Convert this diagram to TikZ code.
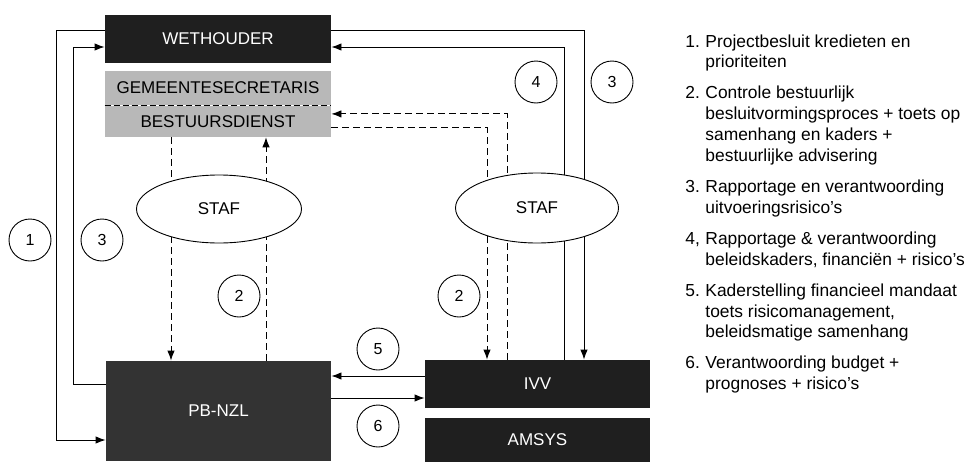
\documentclass[tikz,border=0pt]{standalone}
\usepackage{fontspec}
\setmainfont{Liberation Sans}
\usetikzlibrary{arrows.meta, positioning, calc, shapes.geometric}
\newcommand{\keyno}[1]{\makebox[20pt][l]{#1}}

\begin{document}
\begin{tikzpicture}[x=1pt, y=-1pt, line width=0.9pt,
  darkbox/.style={fill=black!88, text=white, font=\fontsize{17}{20}\selectfont,
                  minimum width=226pt, inner sep=0pt},
  graybox/.style={fill=black!28, font=\fontsize{17}{20}\selectfont,
                  minimum width=226pt, inner sep=0pt},
  staf/.style={ellipse, draw, fill=white, font=\fontsize{17}{20}\selectfont, inner sep=0pt},
  num/.style={circle, draw, fill=white, minimum size=42pt, inner sep=0pt,
              font=\fontsize{16}{18}\selectfont},
  a/.style={-{Latex[length=10pt, width=7.5pt]}},
  ad/.style={a, dash pattern=on 7pt off 4pt},
  legend/.style={anchor=north west, align=left, inner sep=0pt,
                 font=\fontsize{17.4}{20.8}\selectfont}]
  \useasboundingbox (0,0) rectangle (967,461);

  \node[darkbox, minimum height=48pt] (weth) at (218,39) {WETHOUDER};
  \node[graybox, minimum height=34pt] (gsec) at (218,88) {GEMEENTESECRETARIS};
  \node[graybox, minimum height=31pt, below=0pt of gsec] (bsd) {BESTUURSDIENST};
  \draw[dash pattern=on 6pt off 3pt] (gsec.south west) -- (gsec.south east);
  \node[darkbox, fill=black!80, minimum width=225pt, minimum height=100pt] (pb) at (218.5,411) {PB-NZL};
  \node[darkbox, minimum width=225pt, minimum height=48pt] (ivv) at (537.5,384) {IVV};
  \node[darkbox, minimum width=225pt, minimum height=44pt, below=9pt of ivv] (ams) {AMSYS};

  % lijnen links
  \draw[a] ([yshift=9pt]weth.west) -- ++(-48,0) |- ([yshift=-29pt]pb.west);
  \draw[a] ([yshift=27pt]pb.west) -- ++(-32,0) |- ([yshift=-8pt]weth.west);
  \draw[ad] ([xshift=-47pt]bsd.south) -- ([xshift=-47pt]bsd.south |- pb.north);
  \draw[ad] ([xshift=48pt]bsd.south |- pb.north) -- ([xshift=48pt]bsd.south);

  % lijnen rechts
  \draw[a] ([yshift=9pt]weth.east) -| ([xshift=46.5pt]ivv.north);
  \draw[a] ([xshift=26.5pt]ivv.north) |- ([yshift=-8pt]weth.east);
  \draw[ad] ([xshift=-30.5pt]ivv.north) |- ([yshift=7.5pt]bsd.east);
  \draw[ad] ([yshift=-6.5pt]bsd.east) -| ([xshift=-50.5pt]ivv.north);

  % tussen PB-NZL en IVV
  \draw[a] ([yshift=8pt]ivv.west) -- ([yshift=8pt]ivv.west -| pb.east);
  \draw[a] ([yshift=-14pt]ivv.west -| pb.east) -- ([yshift=-14pt]ivv.west);

  \node[staf, minimum width=165pt, minimum height=68pt] (stafL) at (219,209) {STAF};
  \node[staf, minimum width=163pt, minimum height=70pt] (stafR) at (537,208) {STAF};

  \node[num] (c1) at (30,240) {1};
  \node[num] (c3l) at (102,240) {3};
  \node[num] (c2l) at (239,296) {2};
  \node[num] (c4) at (536,82) {4};
  \node[num] (c3r) at (612,82) {3};
  \node[num] (c2r) at (459,296) {2};
  \node[num] (c5) at (378,349) {5};
  \node[num] (c6) at (378,426) {6};

  \node[legend] (key) at (685,34) {%
    \keyno{1.}Projectbesluit kredieten en\\
    \keyno{}prioriteiten\\[10.3pt]
    \keyno{2.}Controle bestuurlijk\\
    \keyno{}besluitvormingsproces + toets op\\
    \keyno{}samenhang en kaders +\\
    \keyno{}bestuurlijke advisering\\[10.3pt]
    \keyno{3.}Rapportage en verantwoording\\
    \keyno{}uitvoeringsrisico’s\\[10.3pt]
    \keyno{4,}Rapportage \& verantwoording\\
    \keyno{}beleidskaders, financiën + risico’s\\[10.3pt]
    \keyno{5.}Kaderstelling financieel mandaat\\
    \keyno{}toets risicomanagement,\\
    \keyno{}beleidsmatige samenhang\\[10.3pt]
    \keyno{6.}Verantwoording budget +\\
    \keyno{}prognoses + risico’s};
\end{tikzpicture}
\end{document}
